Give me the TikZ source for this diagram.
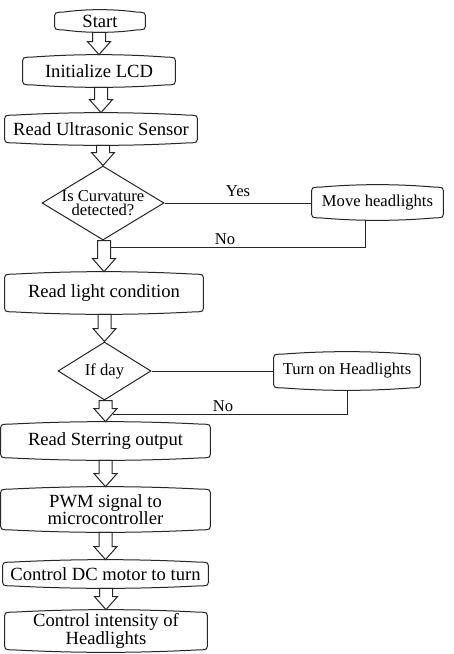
\documentclass[tikz,border=0pt]{standalone}
\usepackage{fontspec}
\setmainfont{Liberation Serif}
\usetikzlibrary{shapes.geometric,calc}

\newcommand{\mainsize}{\rmfamily\fontsize{9.3}{8.6}\selectfont}
\newcommand{\sidesize}{\rmfamily\fontsize{8.3}{7.2}\selectfont}

\begin{document}
\begin{tikzpicture}[x=0.5pt, y=-0.5pt,
    process/.style={rectangle, align=center, font=\mainsize, inner sep=0pt},
    sidebox/.style={process, font=\sidesize},
    decision/.style={diamond, draw=black!85, line width=0.5pt, aspect=1.6,
                     inner sep=-5pt, align=center, font=\sidesize},
    outline/.style={draw=black!85, line width=0.5pt},
    flowline/.style={draw=black!85, line width=0.5pt},
    hollow/.style={draw=black!85, line width=0.5pt, fill=white},
    branch/.style={font=\sidesize}
]
    \useasboundingbox (0,0) rectangle (454,654);

    % main column
    \node[process, minimum width=45pt, minimum height=11pt] (start) at (100,21) {Start};
    \node[process, minimum width=76pt, minimum height=16pt] (lcd) at (99,71) {Initialize LCD};
    \node[process, minimum width=96pt, minimum height=16pt] (ultra) at (101,129) {Read Ultrasonic Sensor};
    \node[decision, minimum width=61pt, minimum height=37pt] (curve) at (103,203) {Is Curvature\\detected?};
    \node[process, minimum width=99pt, minimum height=21pt] (light) at (104,293) {Read light condition};
    \node[decision, minimum width=46.5pt, minimum height=29pt] (day) at (104.5,371) {If day};
    \node[process, minimum width=104.5pt, minimum height=19pt] (steer) at (105.5,441) {Read Sterring output};
    \node[process, minimum width=104.5pt, minimum height=22.5pt] (pwm) at (105.5,509.5) {PWM signal to\\microcontroller};
    \node[process, minimum width=102.5pt, minimum height=14pt] (motor) at (105.5,574) {Control DC motor to turn};
    \node[process, minimum width=101pt, minimum height=21pt] (intensity) at (106,631) {Control intensity of\\Headlights};

    % side branches
    \node[sidebox, minimum width=65.5pt, minimum height=17.5pt] (move) at (377.5,202.5) {Move headlights};
    \node[sidebox, minimum width=73pt, minimum height=19pt] (turn) at (347,371) {Turn on Headlights};

    % box outlines with slightly bowed top and bottom
    \foreach \bx in {start, lcd, ultra, light, steer, pwm, motor, intensity, move, turn}
        \draw[outline] let \p1=(\bx.north west), \p2=(\bx.south east) in
            (\x1,\y1-5pt) -- (\x1,\y2+5pt)
            .. controls (\x1,\y2+1.3pt) .. (\x1+4pt,\y2+1.3pt)
            .. controls ({\x1+0.35*(\x2-\x1)},\y2-0.4pt) and ({\x2-0.35*(\x2-\x1)},\y2-0.4pt) .. (\x2-4pt,\y2+1.3pt)
            .. controls (\x2,\y2+1.3pt) .. (\x2,\y2+5pt)
            -- (\x2,\y1-5pt)
            .. controls (\x2,\y1-1.3pt) .. (\x2-4pt,\y1-1.3pt)
            .. controls ({\x2-0.35*(\x2-\x1)},\y1+0.4pt) and ({\x1+0.35*(\x2-\x1)},\y1+0.4pt) .. (\x1+4pt,\y1-1.3pt)
            .. controls (\x1,\y1-1.3pt) .. (\x1,\y1-5pt) -- cycle;

    % hollow block arrows
    \foreach \a/\b in {start/lcd, lcd/ultra, ultra/curve, curve/light, light/day,
                       day/steer, steer/pwm, pwm/motor, motor/intensity}
        \draw[hollow] ($(\a.south -| \b.north)+(-6.5,0)$) -- ($(\b.north)+(-6.5,-13)$)
            -- ($(\b.north)+(-11.5,-13)$) -- (\b.north) -- ($(\b.north)+(11.5,-13)$)
            -- ($(\b.north)+(6.5,-13)$) -- ($(\a.south -| \b.north)+(6.5,0)$) -- cycle;

    % curvature branch
    \coordinate (movedrop) at ($(move.south)+(-12,0)$);
    \coordinate (join1) at ($(light.north)+(6.5,-24)$);
    \draw[flowline] (curve.east) -- (curve.east -| move.west);
    \draw[flowline] (movedrop) |- (join1);
    \node[branch] (yes1) at (238,191) {Yes};
    \node[branch] (no1) at (225,239) {No};

    % day branch
    \coordinate (join2) at ($(steer.north)+(7,-7)$);
    \draw[flowline] (day.east) -- (day.east -| turn.west);
    \draw[flowline] (turn.south) |- (join2);
    \node[branch] (no2) at (223,406) {No};
\end{tikzpicture}
\end{document}
